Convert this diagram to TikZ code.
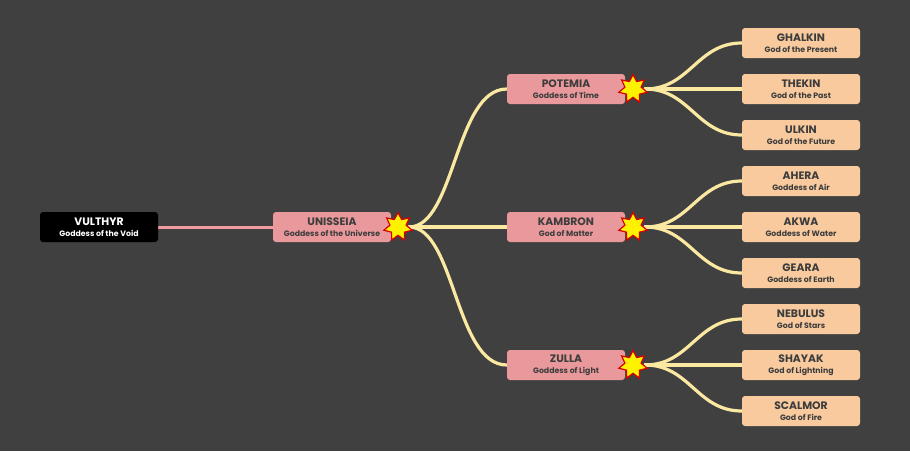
\documentclass[tikz,border=0pt]{standalone}
\usepackage{fontspec}
\setmainfont{Poppins}
\usetikzlibrary{shapes.geometric}
\definecolor{bg}{HTML}{404040}
\definecolor{pinkbox}{HTML}{E9999B}
\definecolor{peachbox}{HTML}{F8CA9E}
\definecolor{linkyel}{HTML}{FBE9A2}
\definecolor{linkpink}{HTML}{EE9CA0}
\definecolor{txt}{HTML}{3C3C3C}
\definecolor{starred}{HTML}{D80000}
\pgfdeclarelayer{bgl}
\pgfdeclarelayer{links}
\pgfsetlayers{bgl,links,main}
\tikzset{
  base/.style={rounded corners=3pt, minimum width=118pt, minimum height=30pt, inner sep=0pt, align=center},
  rootbox/.style={base, fill=black, text=white},
  pinkb/.style={base, fill=pinkbox, text=txt},
  peachb/.style={base, fill=peachbox, text=txt},
  burst/.style={star, star points=7, star point ratio=1.75, minimum size=29pt, inner sep=0pt, fill=yellow, draw=starred, line width=1.2pt},
  link/.style={draw=linkyel, line width=3.2pt, line cap=round},
  rootlink/.style={draw=linkpink, line width=3pt},
}
\newcommand{\lbl}[2]{{\fontsize{10.8}{12}\selectfont\bfseries #1}\\[-1pt]{\fontsize{7.8}{9}\selectfont\bfseries #2}}
\begin{document}
\begin{tikzpicture}[x=1pt,y=-1pt]
\begin{pgfonlayer}{bgl}
\fill[bg] (0,0) rectangle (910,451);
\end{pgfonlayer}
\useasboundingbox (0,0) rectangle (910,451);
% nodes
\node[rootbox] (vul) at (99,227) {\lbl{VULTHYR}{Goddess of the Void}};
\node[pinkb] (uni) at (332,227) {\lbl{UNISSEIA}{Goddess of the Universe}};
\node[pinkb] (pot) at (566,89) {\lbl{POTEMIA}{Goddess of Time}};
\node[pinkb] (kam) at (566,227) {\lbl{KAMBRON}{God of Matter}};
\node[pinkb] (zul) at (566,365) {\lbl{ZULLA}{Goddess of Light}};
\node[peachb] (gha) at (801,43) {\lbl{GHALKIN}{God of the Present}};
\node[peachb] (the) at (801,89) {\lbl{THEKIN}{God of the Past}};
\node[peachb] (ulk) at (801,135) {\lbl{ULKIN}{God of the Future}};
\node[peachb] (ahe) at (801,181) {\lbl{AHERA}{Goddess of Air}};
\node[peachb] (akw) at (801,227) {\lbl{AKWA}{Goddess of Water}};
\node[peachb] (gea) at (801,273) {\lbl{GEARA}{Goddess of Earth}};
\node[peachb] (neb) at (801,319) {\lbl{NEBULUS}{God of Stars}};
\node[peachb] (sha) at (801,365) {\lbl{SHAYAK}{God of Lightning}};
\node[peachb] (sca) at (801,411) {\lbl{SCALMOR}{God of Fire}};
% bursts
\node[burst] (bu) at (398,227) {};
\node[burst] (bp) at (633,89) {};
\node[burst] (bk) at (633,227) {};
\node[burst] (bz) at (633,365) {};
% link start points
\coordinate (su) at (409,227);
\coordinate (sp) at (645,89);
\coordinate (sk) at (645,227);
\coordinate (sz) at (645,365);
\begin{pgfonlayer}{links}
\draw[rootlink] (vul.center) -- (uni.center);
\draw[link] (su) .. controls (455,227) and (455,89) .. (pot.west);
\draw[link] (su) -- (kam.west);
\draw[link] (su) .. controls (455,227) and (455,365) .. (zul.west);
\foreach \s/\a/\b/\c in {sp/gha/the/ulk, sk/ahe/akw/gea, sz/neb/sha/sca}{
  \draw[link] (\s) .. controls +(45,0) and ([xshift=-45pt]\a.west) .. (\a.west);
  \draw[link] (\s) -- (\b.west);
  \draw[link] (\s) .. controls +(45,0) and ([xshift=-45pt]\c.west) .. (\c.west);
}
\end{pgfonlayer}
\end{tikzpicture}
\end{document}
